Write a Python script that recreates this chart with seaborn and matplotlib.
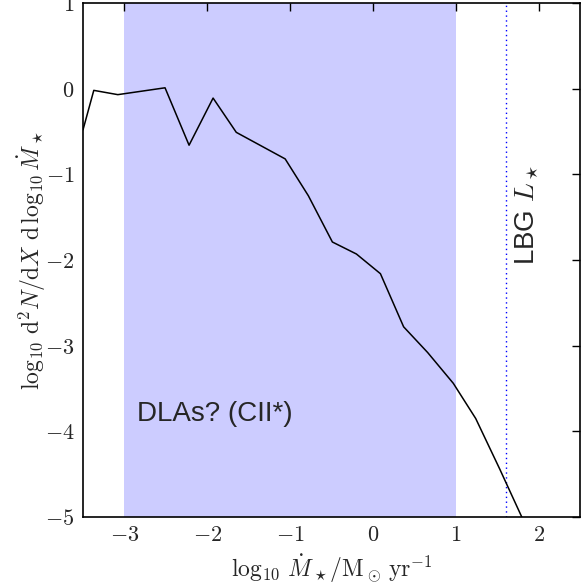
import numpy as np
import pandas as pd
import matplotlib
matplotlib.use("Agg")
import matplotlib.pyplot as plt
import seaborn as sns

log_sfr = [-3.5, -3.37, -3.08, -2.51, -2.22, -1.93, -1.65, -1.06, -0.78, -0.49,
           -0.20, 0.09, 0.37, 0.66, 0.97, 1.24, 1.53, 1.82]
log_dndx = [-0.48, -0.02, -0.07, 0.01, -0.66, -0.11, -0.51, -0.82, -1.25, -1.79,
            -1.93, -2.16, -2.78, -3.08, -3.44, -3.85, -4.44, -5.05]
dla_range = [-3.0, 1.0]
lbg_lstar = 1.6
xticks = [-3, -2, -1, 0, 1, 2]
yticks = [-5, -4, -3, -2, -1, 0, 1]

sns.set_style("white")
plt.rcParams["mathtext.fontset"] = "cm"
plt.rcParams["font.family"] = ["Liberation Sans", "DejaVu Sans"]

fig = plt.figure(figsize=(5.83, 5.84), dpi=100)
ax = fig.add_axes([0.1424, 0.1147, 0.8526, 0.8802])

ax.axvspan(dla_range[0], dla_range[1], color=(0.8, 0.8, 1.0), lw=0, zorder=0)
ax.axvline(lbg_lstar, color="blue", ls=(0, (1, 2.5)), lw=1.0)
df = pd.DataFrame({"x": log_sfr, "y": log_dndx})
sns.lineplot(data=df, x="x", y="y", ax=ax, color="black", lw=1.1,
             estimator=None, sort=False)

ax.set_xlim(-3.5, 2.5)
ax.set_ylim(-5, 1)
ax.set_xticks(xticks)
ax.set_yticks(yticks)
ax.set_xticklabels([f"${t}$" for t in xticks], fontsize=16)
ax.set_yticklabels([f"${t}$" for t in yticks], fontsize=16)
ax.tick_params(direction="in", top=True, right=True, length=6, width=1,
               color="black", pad=6)
for s in ax.spines.values():
    s.set_color("black")
    s.set_linewidth(1.2)

ax.set_xlabel(r"$\log_{10}\,\dot{M}_\star/\mathrm{M}_\odot\,\mathrm{yr}^{-1}$", fontsize=17, labelpad=4)
ax.set_ylabel(r"$\log_{10}\,\mathrm{d}^2N/\mathrm{d}X\ \mathrm{d}\,\log_{10}\dot{M}_\star$", fontsize=17, labelpad=-2)

ax.text(-2.85, -3.80, "DLAs? (CII*)", fontsize=20, ha="left", va="center")
ax.text(1.86, -1.47, r"LBG $L_\star$", fontsize=20, rotation=90, ha="center", va="center")

fig.savefig("out.png", dpi=100)
